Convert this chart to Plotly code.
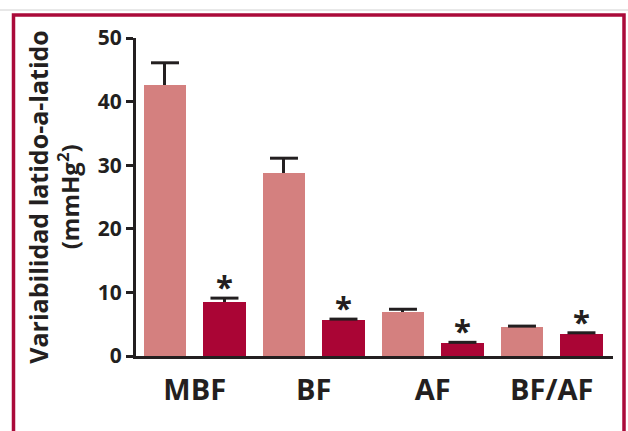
import plotly.graph_objects as go

groups = ["MBF", "BF", "AF", "BF/AF"]
control_vals = [42.6, 28.8, 6.9, 4.55]
control_err = [3.5, 2.3, 0.45, 0.15]
treated_vals = [8.5, 5.65, 2.0, 3.45]
treated_err = [0.6, 0.15, 0.15, 0.2]
significant = [True, True, True, True]
y_ticks = [0, 10, 20, 30, 40, 50]
y_title_1 = "Variabilidad latido-a-latido"
y_title_2 = "(mmHg<sup>2</sup>)"

LIGHT = "#D4807F"
DARK = "#AA0535"
INK = "#231F20"
FRAME = "#AA0A3A"
FONT = "Open Sans"

x_ctrl = [2 * i for i in range(len(groups))]
x_trt = [2 * i + 1 for i in range(len(groups))]
x_grp = [2 * i + 0.5 for i in range(len(groups))]

fig = go.Figure()
for xs, vals, errs, col in [(x_ctrl, control_vals, control_err, LIGHT),
                            (x_trt, treated_vals, treated_err, DARK)]:
    fig.add_trace(go.Bar(
        x=xs, y=vals, width=0.72, marker=dict(color=col, line=dict(width=0)),
        error_y=dict(type="data", symmetric=False, array=errs, arrayminus=[0] * len(errs),
                     color=INK, thickness=3, width=0),
        showlegend=False, hoverinfo="skip",
    ))
    # caps only at the upper end of the error bars
    fig.add_trace(go.Scatter(
        x=xs, y=[v + e for v, e in zip(vals, errs)], mode="markers",
        marker=dict(symbol="line-ew", size=20, line=dict(color=INK, width=3)),
        showlegend=False, hoverinfo="skip",
    ))

for xi, v, e, s in zip(x_trt, treated_vals, treated_err, significant):
    if s:
        fig.add_annotation(x=xi, y=v + e, xref="x", yref="y", text="*", showarrow=False,
                           yanchor="bottom", yshift=-11,
                           font=dict(family=FONT, size=31, color=INK, weight="bold"))

# y-axis title (two rotated lines)
fig.add_annotation(x=-0.206, y=0.5, xref="paper", yref="paper", text=y_title_1,
                   textangle=-90, showarrow=False, xanchor="center", yanchor="middle",
                   font=dict(family=FONT, size=25, color=INK, weight="bold"))
fig.add_annotation(x=-0.142, y=0.5, xref="paper", yref="paper", text=y_title_2,
                   textangle=-90, showarrow=False, xanchor="center", yanchor="middle",
                   font=dict(family=FONT, size=24, color=INK, weight="bold"))

# frame
L, R, T, B = 136, 613, 38, 356
def px(x):
    return (x - L) / (R - L)
def py(y):
    return (B - y) / (B - T)
fig.add_shape(type="path", xref="paper", yref="paper",
              path=f"M {px(13.5)} {py(445)} L {px(13.5)} {py(15)} L {px(624)} {py(15)} L {px(624)} {py(445)}",
              line=dict(color=FRAME, width=3.5), layer="above")
fig.add_shape(type="line", xref="paper", yref="paper",
              x0=px(0), x1=px(628), y0=py(10), y1=py(10),
              line=dict(color="#D0D0D0", width=1))

fig.update_layout(
    width=628, height=431,
    margin=dict(l=L, r=628 - R, t=T, b=431 - B),
    paper_bgcolor="white", plot_bgcolor="white",
    bargap=0, barmode="overlay",
    xaxis=dict(range=[-0.487, 7.53], showgrid=False, zeroline=False,
               showline=True, linewidth=3, linecolor=INK,
               tickmode="array", tickvals=x_grp, ticktext=groups, ticks="",
               ticklabelstandoff=6,
               tickfont=dict(family=FONT, size=29, color=INK, weight="bold")),
    yaxis=dict(range=[0, 50], showgrid=False, zeroline=False,
               showline=True, linewidth=3, linecolor=INK,
               tickmode="array", tickvals=y_ticks, ticks="outside",
               ticklen=7, tickwidth=3, tickcolor=INK,
               tickfont=dict(family=FONT, size=21, color=INK, weight="bold")),
)

fig.write_html("out.html", config={"displayModeBar": False},
               post_script="document.body.style.margin='0';")
